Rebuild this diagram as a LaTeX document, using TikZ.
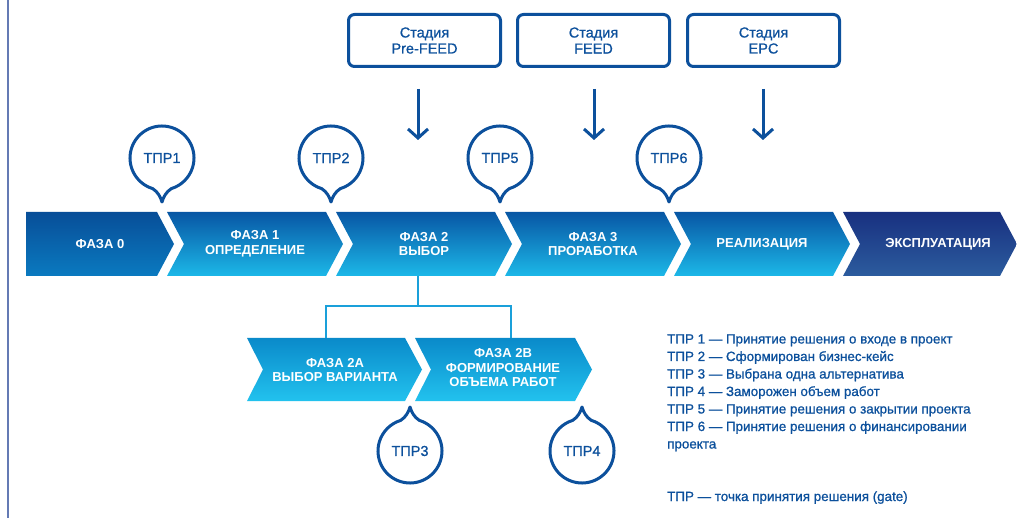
\documentclass[tikz,border=0pt]{standalone}
\usepackage{fontspec}
\setmainfont{Liberation Sans}
\newfontfamily\medfont{Liberation Sans}[BoldFont={Liberation Sans},BoldFeatures={FakeBold=0.8}]
\usetikzlibrary{arrows.meta,calc}
\definecolor{tblue}{RGB}{12,80,156}
\definecolor{tcyan}{RGB}{26,160,218}
\definecolor{vline}{RGB}{100,122,180}
\definecolor{mtop}{RGB}{8,86,164}
\definecolor{mbot}{RGB}{28,184,232}
\definecolor{ztop}{RGB}{8,78,152}
\definecolor{zbot}{RGB}{10,122,192}
\definecolor{etop}{RGB}{24,48,128}
\definecolor{ebot}{RGB}{44,92,158}
\definecolor{stop}{RGB}{10,138,202}
\definecolor{sbot}{RGB}{34,194,238}
\newcommand\tprpin[5]{%
  \begin{scope}[shift={(#2,#3)},rotate=#4]
    \path[pinline] (0,-44) .. controls (-1.5,-39) and (-4,-34) .. (253:32)
      arc[start angle=253,end angle=-73,radius=32]
      .. controls (4,-34) and (1.5,-39) .. (0,-44) -- cycle;
  \end{scope}
  \node[pintext] (#1) at (#2,#3) {#5};
}
\begin{document}
\begin{tikzpicture}[x=1pt,y=1pt,
  phtext/.style={text=white,font=\fontsize{13}{14.5}\selectfont\bfseries,align=center,inner sep=0},
  pintext/.style={text=tblue,font=\medfont\fontsize{14.5}{16}\selectfont\bfseries,inner sep=0},
  pinline/.style={draw=tblue,line width=3pt,fill=white,line join=round},
  stagebox/.style={draw=tblue,line width=3pt,rounded corners=6pt,minimum width=152pt,minimum height=52pt,text=tblue,font=\medfont\fontsize{14.5}{16}\selectfont\bfseries,align=center},
  arr/.style={draw=tblue,line width=3pt,-{Straight Barb[length=9pt,width=20pt]}},
  branch/.style={draw=tcyan,line width=2.5pt},
  legend/.style={text=tblue,font=\medfont\fontsize{13.4}{17.5}\selectfont\bfseries,anchor=base west,inner sep=0},
  phmain/.style={top color=mtop,bottom color=mbot},
  phzero/.style={top color=ztop,bottom color=zbot},
  phexp/.style={top color=etop,bottom color=ebot},
  phsub/.style={top color=stop,bottom color=sbot}
]
\useasboundingbox (0,0) rectangle (1017,-518);
\fill[white] (0,0) rectangle (1017,-518);
\draw[vline,line width=1.5pt] (8,0) -- (8,-518);

% stage boxes
\node[stagebox] (s1) at (424.5,-40.5) {Стадия\\Pre-FEED};
\node[stagebox] (s2) at (593.5,-40.5) {Стадия\\FEED};
\node[stagebox] (s3) at (763.5,-40.5) {Стадия\\EPC};
\draw[arr] ($(s1.south)+(-6.5,-21)$) -- ++(0,-51);
\draw[arr] ($(s2.south)+(0.5,-21)$) -- ++(0,-51);
\draw[arr] ($(s3.south)+(-0.5,-21)$) -- ++(0,-51);

% main chevrons
\path[phzero] (26,-212) -- (157,-212) -- (174,-244) -- (157,-276) -- (26,-276) -- cycle;
\path[phmain] (167,-212) -- (326,-212) -- (343,-244) -- (326,-276) -- (167,-276) -- (184,-244) -- cycle;
\path[phmain] (336,-212) -- (495,-212) -- (512,-244) -- (495,-276) -- (336,-276) -- (353,-244) -- cycle;
\path[phmain] (505,-212) -- (664,-212) -- (681,-244) -- (664,-276) -- (505,-276) -- (522,-244) -- cycle;
\path[phmain] (674,-212) -- (833,-212) -- (850,-244) -- (833,-276) -- (674,-276) -- (691,-244) -- cycle;
\path[phexp] (843,-212) -- (1000,-212) -- (1017,-244) -- (1000,-276) -- (843,-276) -- (860,-244) -- cycle;
\node[phtext] (p0) at (100,-244) {ФАЗА 0};
\node[phtext] (p1) at (255,-244) {ФАЗА 1\\ОПРЕДЕЛЕНИЕ};
\node[phtext] (p2) at (424,-244) {ФАЗА 2\\ВЫБОР};
\node[phtext] (p3) at (593,-244) {ФАЗА 3\\ПРОРАБОТКА};
\node[phtext] (p4) at (762,-244) {РЕАЛИЗАЦИЯ};
\node[phtext] (p5) at (938,-244) {ЭКСПЛУАТАЦИЯ};

% sub chevrons
\path[phsub] (247,-338) -- (405,-338) -- (422,-369.5) -- (405,-401) -- (247,-401) -- (263,-369.5) -- cycle;
\path[phsub] (415,-338) -- (575,-338) -- (592,-369.5) -- (575,-401) -- (415,-401) -- (431,-369.5) -- cycle;
\node[phtext] (q1) at (335,-370) {ФАЗА 2А\\ВЫБОР ВАРИАНТА};
\node[phtext] (q2) at (503,-368) {ФАЗА 2В\\ФОРМИРОВАНИЕ\\ОБЪЕМА РАБОТ};

% branch connector
\coordinate (p2s) at (418,-276);
\coordinate (q1n) at (326,-338);
\coordinate (q2n) at (511,-338);
\draw[branch] (p2s) -- ++(0,-30) coordinate (bj);
\draw[branch] (q1n) |- (bj) -| (q2n);

% decision pins
\tprpin{t1}{162}{-158}{0}{ТПР1}
\tprpin{t2}{331}{-158}{0}{ТПР2}
\tprpin{t5}{500}{-158}{0}{ТПР5}
\tprpin{t6}{669}{-158}{0}{ТПР6}
\tprpin{t3}{410}{-451}{180}{ТПР3}
\tprpin{t4}{582}{-451}{180}{ТПР4}

% legend
\node[legend] (l1) at (667,-343.5) {ТПР 1 — Принятие решения о входе в проект};
\node[legend] (l2) at (667,-361) {ТПР 2 — Сформирован бизнес-кейс};
\node[legend] (l3) at (667,-378.5) {ТПР 3 — Выбрана одна альтернатива};
\node[legend] (l4) at (667,-396) {ТПР 4 — Заморожен объем работ};
\node[legend] (l5) at (667,-413.5) {ТПР 5 — Принятие решения о закрытии проекта};
\node[legend] (l6) at (667,-431) {ТПР 6 — Принятие решения о финансировании};
\node[legend] (l7) at (667,-448.5) {проекта};
\node[legend] (l8) at (667,-501) {ТПР — точка принятия решения (gate)};
\end{tikzpicture}
\end{document}
